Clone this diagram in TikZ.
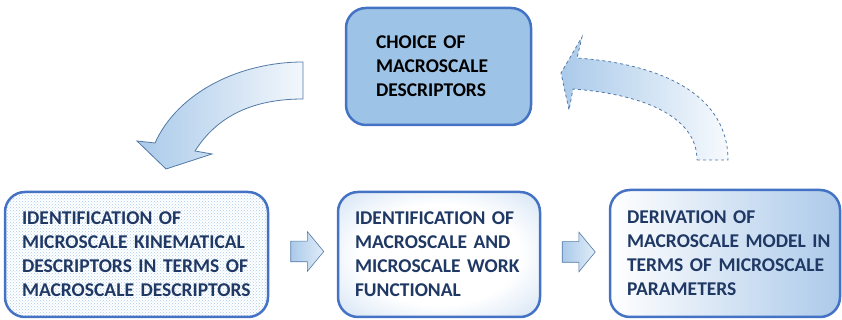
\documentclass[tikz,border=0pt]{standalone}
\usepackage{fontspec}
\setmainfont{Carlito}
\usetikzlibrary{shapes.arrows,patterns}

\definecolor{frameblue}{RGB}{68,114,196}
\definecolor{boxblue}{RGB}{157,195,230}
\definecolor{paleblue}{RGB}{172,202,234}
\definecolor{navytext}{RGB}{31,56,100}
\definecolor{arrowline}{RGB}{82,122,165}
\definecolor{arrowblue}{RGB}{170,202,234}

\pgfdeclareradialshading{glow}{\pgfpoint{0bp}{0bp}}{color(0bp)=(white); color(20bp)=(white); color(50bp)=(paleblue); color(100bp)=(paleblue)}
\hyphenpenalty=10000

\begin{document}
\begin{tikzpicture}[x=1pt,y=1pt]

      \tikzset{stage/.style={draw=frameblue, line width=2.5pt, rounded corners=20pt, align=left, inner xsep=17pt, inner ysep=0pt, text=navytext, font=\fontsize{19.5}{24}\selectfont\bfseries},
               stepbox/.style={single arrow, draw=arrowline, line width=0.6pt, left color=arrowblue, right color=arrowblue!35, minimum width=39pt, single arrow head extend=9.5pt, single arrow tip angle=101, minimum height=33pt, inner sep=0pt},
               bigarrow/.style={draw=arrowline, line width=0.8pt, line join=miter}}
\useasboundingbox (0,0) rectangle (842,320);
% Boxes
	%Top
      	\node[stage, fill=boxblue, text=black, inner xsep=30pt, minimum width=185pt, minimum height=117pt, text width=125pt] (choice) at (438.5,253.5) {CHOICE~OF\\ MACROSCALE\\ DESCRIPTORS};
	%Bottom row
      	\node[stage, pattern=crosshatch dots, pattern color=arrowblue, minimum width=263pt, minimum height=125pt, text width=229pt] (kinem) at (136.5,65.5) {IDENTIFICATION~OF\\ MICROSCALE~KINEMATICAL\\ DESCRIPTORS~IN~TERMS~OF\\ MACROSCALE~DESCRIPTORS};
      	\node[stage, shading=glow, minimum width=202pt, minimum height=125pt, text width=168pt] (work) at (439,65.5) {IDENTIFICATION~OF\\ MACROSCALE~AND\\ MICROSCALE~WORK\\ FUNCTIONAL};
      	\node[stage, left color=white, right color=paleblue, minimum width=230pt, minimum height=127pt, text width=196pt] (deriv) at (725,66.5) {DERIVATION~OF\\ MACROSCALE~MODEL~IN\\ TERMS~OF~MICROSCALE\\ PARAMETERS};
%Arrows
	%Straight
		\node[stepbox] (go1) at (303,68.5) {\rule{0pt}{20pt}};
		\node[stepbox] (go2) at (574.5,68) {\rule{0pt}{20pt}};
	%Curved, choice to kinem
		\path[bigarrow, left color=arrowblue, right color=white!85!arrowblue]
			(303,258) .. controls (240,258) and (178,228) .. (155,177)
			-- (137,179) -- (166,151) -- (212,166) -- (195,169)
			.. controls (216,202) and (250,221) .. (303,221) -- cycle;
	%Curved dashed, deriv to choice
		\path[bigarrow, dashed, left color=arrowblue, right color=white!90!arrowblue]
			(697,160) -- (728,160) .. controls (728,225) and (662,256) .. (577,262)
			-- (582,283) -- (561,247) -- (569,210) -- (573,231)
			.. controls (640,226) and (697,205) .. (697,160) -- cycle;

\end{tikzpicture}
\end{document}
